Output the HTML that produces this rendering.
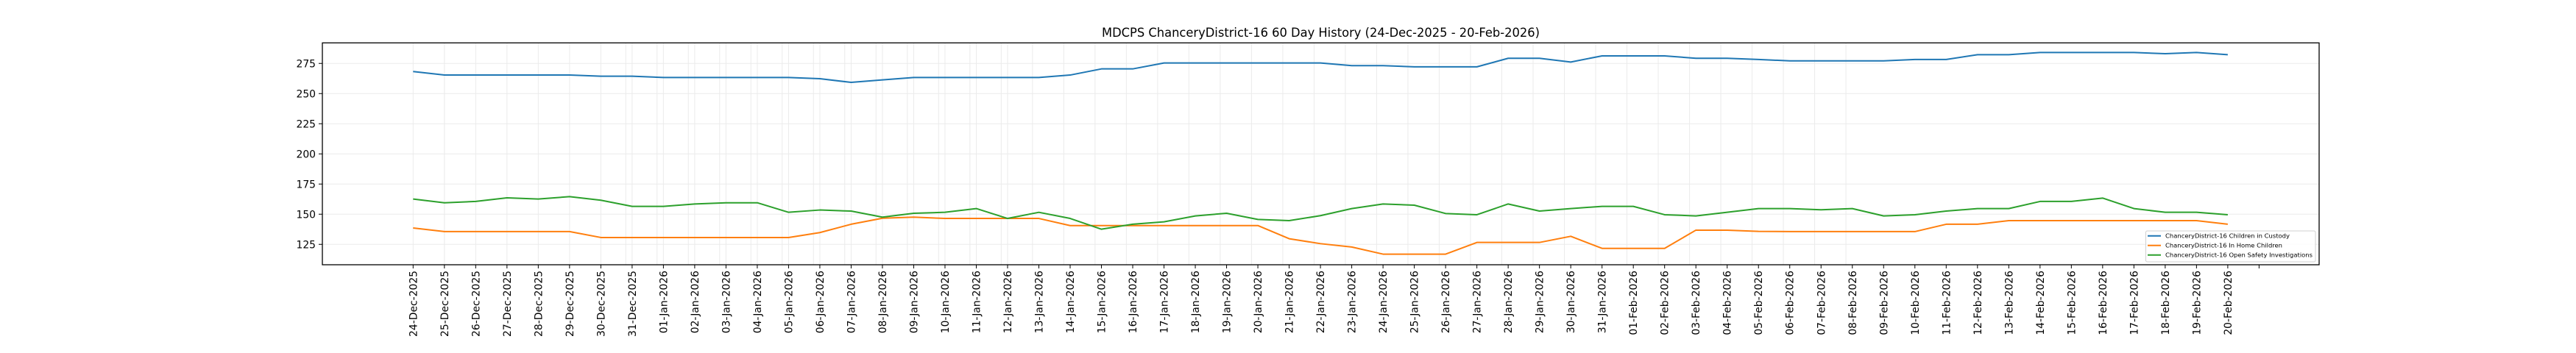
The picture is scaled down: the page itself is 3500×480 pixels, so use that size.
<!DOCTYPE html>
<html><head><meta charset="utf-8"><style>html,body{margin:0;padding:0;background:#fff}svg{display:block}text{font-family:"DejaVu Sans","Liberation Sans",sans-serif;fill:#000}</style></head>
<body>
<svg width="3500" height="480" viewBox="0 0 3500 480" xmlns="http://www.w3.org/2000/svg">
<rect width="3500" height="480" fill="#fff"/>
<text x="1794.5" y="50" font-size="16.7" text-anchor="middle" textLength="595" lengthAdjust="spacingAndGlyphs">MDCPS ChanceryDistrict-16 60 Day History (24-Dec-2025 - 20-Feb-2026)</text>
<!-- grid -->
<g stroke="#ebebeb" stroke-width="1">
<path d="M438 332.3H3151M438 291.3H3151M438 250.3H3151M438 209.3H3151M438 168.3H3151M438 127.3H3151M438 86.3H3151"/>
<g transform="translate(561.3,0)"><path id="vg" d="M0 58V360M42.51 58V360M85.02 58V360M127.53 58V360M170.04 58V360M212.55 58V360M255.06 58V360M297.57 58V360M340.08 58V360M382.59 58V360M425.1 58V360M467.61 58V360M510.12 58V360M552.63 58V360M595.14 58V360M637.65 58V360M680.16 58V360M722.67 58V360M765.18 58V360M807.69 58V360"/></g>
<use href="#vg" x="850.2"/><use href="#vg" x="1700.4"/>
</g>
<!-- series -->
<g transform="translate(561.3,332.3) scale(42.51,-1.64) translate(0,-125)" fill="none" stroke-width="2" stroke-linejoin="round">
<polyline vector-effect="non-scaling-stroke" stroke="#1f77b4" points="0,268.3 1,265.4 2,265.4 3,265.4 4,265.4 5,265.4 6,264.4 7,264.4 8,263.4 9,263.4 10,263.4 11,263.4 12,263.4 13,262.4 14,259.3 15,261.4 16,263.4 17,263.4 18,263.4 19,263.4 20,263.4 21,265.4 22,270.5 23,270.5 24,275.4 25,275.4 26,275.4 27,275.4 28,275.4 29,275.4 30,273.2 31,273.2 32,272.2 33,272.2 34,272.2 35,279.3 36,279.3 37,276.2 38,281.3 39,281.3 40,281.3 41,279.3 42,279.3 43,278.3 44,277.2 45,277.2 46,277.2 47,277.2 48,278.3 49,278.3 50,282.3 51,282.3 52,284.1 53,284.1 54,284.1 55,284.1 56,283.1 57,284.1 58,282.3"/>
<polyline vector-effect="non-scaling-stroke" stroke="#ff7f0e" points="0,138.6 1,135.6 2,135.6 3,135.6 4,135.6 5,135.6 6,130.7 7,130.7 8,130.7 9,130.7 10,130.7 11,130.7 12,130.7 13,134.8 14,141.7 15,146.7 16,147.6 17,146.5 18,146.5 19,146.5 20,146.5 21,140.6 22,140.6 23,140.6 24,140.6 25,140.6 26,140.6 27,140.6 28,129.7 29,125.6 30,122.8 31,116.9 32,116.9 33,116.9 34,126.6 35,126.6 36,126.6 37,131.7 38,121.7 39,121.7 40,121.7 41,136.8 42,136.8 43,135.8 44,135.6 45,135.6 46,135.6 47,135.6 48,135.6 49,141.7 50,141.7 51,144.7 52,144.7 53,144.7 54,144.7 55,144.7 56,144.7 57,144.7 58,141.7"/>
<polyline vector-effect="non-scaling-stroke" stroke="#2ca02c" points="0,162.6 1,159.5 2,160.6 3,163.6 4,162.6 5,164.6 6,161.6 7,156.5 8,156.5 9,158.5 10,159.5 11,159.5 12,151.6 13,153.5 14,152.6 15,147.6 16,150.8 17,151.6 18,154.7 19,146.5 20,151.6 21,146.5 22,137.6 23,141.7 24,143.7 25,148.6 26,150.8 27,145.7 28,144.7 29,148.8 30,154.7 31,158.5 32,157.5 33,150.6 34,149.6 35,158.5 36,152.6 37,154.7 38,156.5 39,156.5 40,149.6 41,148.6 42,151.6 43,154.7 44,154.7 45,153.7 46,154.7 47,148.6 48,149.6 49,152.6 50,154.7 51,154.7 52,160.6 53,160.6 54,163.4 55,154.7 56,151.6 57,151.6 58,149.6"/>
</g>
<!-- axes frame -->
<rect x="438" y="58.3" width="2713" height="301.7" fill="none" stroke="#000" stroke-width="1.3"/>
<!-- y ticks -->
<g stroke="#000" stroke-width="1"><path d="M433 332.3H438M433 291.3H438M433 250.3H438M433 209.3H438M433 168.3H438M433 127.3H438M433 86.3H438"/></g>
<g font-size="13.9" text-anchor="end">
<text x="429" y="337.3">125</text><text x="429" y="296.3">150</text><text x="429" y="255.3">175</text><text x="429" y="214.3">200</text><text x="429" y="173.3">225</text><text x="429" y="132.3">250</text><text x="429" y="91.3">275</text>
</g>
<!-- x ticks -->
<g stroke="#000" stroke-width="1" transform="translate(561.3,0)"><path id="xt" d="M0 360V365M42.51 360V365M85.02 360V365M127.53 360V365M170.04 360V365M212.55 360V365M255.06 360V365M297.57 360V365M340.08 360V365M382.59 360V365M425.1 360V365M467.61 360V365M510.12 360V365M552.63 360V365M595.14 360V365M637.65 360V365M680.16 360V365M722.67 360V365M765.18 360V365M807.69 360V365"/></g>
<g stroke="#000" stroke-width="1" transform="translate(1411.5,0)"><use href="#xt"/></g>
<g stroke="#000" stroke-width="1" transform="translate(2261.7,0)"><use href="#xt"/></g>
<g font-size="13.9" text-anchor="end">
<text transform="translate(566.3,368) rotate(-90)">24-Dec-2025</text>
<text transform="translate(608.8,368) rotate(-90)">25-Dec-2025</text>
<text transform="translate(651.3,368) rotate(-90)">26-Dec-2025</text>
<text transform="translate(693.8,368) rotate(-90)">27-Dec-2025</text>
<text transform="translate(736.3,368) rotate(-90)">28-Dec-2025</text>
<text transform="translate(778.9,368) rotate(-90)">29-Dec-2025</text>
<text transform="translate(821.4,368) rotate(-90)">30-Dec-2025</text>
<text transform="translate(863.9,368) rotate(-90)">31-Dec-2025</text>
<text transform="translate(906.4,368) rotate(-90)">01-Jan-2026</text>
<text transform="translate(948.9,368) rotate(-90)">02-Jan-2026</text>
<text transform="translate(991.4,368) rotate(-90)">03-Jan-2026</text>
<text transform="translate(1033.9,368) rotate(-90)">04-Jan-2026</text>
<text transform="translate(1076.4,368) rotate(-90)">05-Jan-2026</text>
<text transform="translate(1118.9,368) rotate(-90)">06-Jan-2026</text>
<text transform="translate(1161.4,368) rotate(-90)">07-Jan-2026</text>
<text transform="translate(1203.9,368) rotate(-90)">08-Jan-2026</text>
<text transform="translate(1246.5,368) rotate(-90)">09-Jan-2026</text>
<text transform="translate(1289.0,368) rotate(-90)">10-Jan-2026</text>
<text transform="translate(1331.5,368) rotate(-90)">11-Jan-2026</text>
<text transform="translate(1374.0,368) rotate(-90)">12-Jan-2026</text>
<text transform="translate(1416.5,368) rotate(-90)">13-Jan-2026</text>
<text transform="translate(1459.0,368) rotate(-90)">14-Jan-2026</text>
<text transform="translate(1501.5,368) rotate(-90)">15-Jan-2026</text>
<text transform="translate(1544.0,368) rotate(-90)">16-Jan-2026</text>
<text transform="translate(1586.5,368) rotate(-90)">17-Jan-2026</text>
<text transform="translate(1629.1,368) rotate(-90)">18-Jan-2026</text>
<text transform="translate(1671.6,368) rotate(-90)">19-Jan-2026</text>
<text transform="translate(1714.1,368) rotate(-90)">20-Jan-2026</text>
<text transform="translate(1756.6,368) rotate(-90)">21-Jan-2026</text>
<text transform="translate(1799.1,368) rotate(-90)">22-Jan-2026</text>
<text transform="translate(1841.6,368) rotate(-90)">23-Jan-2026</text>
<text transform="translate(1884.1,368) rotate(-90)">24-Jan-2026</text>
<text transform="translate(1926.6,368) rotate(-90)">25-Jan-2026</text>
<text transform="translate(1969.1,368) rotate(-90)">26-Jan-2026</text>
<text transform="translate(2011.6,368) rotate(-90)">27-Jan-2026</text>
<text transform="translate(2054.2,368) rotate(-90)">28-Jan-2026</text>
<text transform="translate(2096.7,368) rotate(-90)">29-Jan-2026</text>
<text transform="translate(2139.2,368) rotate(-90)">30-Jan-2026</text>
<text transform="translate(2181.7,368) rotate(-90)">31-Jan-2026</text>
<text transform="translate(2224.2,368) rotate(-90)">01-Feb-2026</text>
<text transform="translate(2266.7,368) rotate(-90)">02-Feb-2026</text>
<text transform="translate(2309.2,368) rotate(-90)">03-Feb-2026</text>
<text transform="translate(2351.7,368) rotate(-90)">04-Feb-2026</text>
<text transform="translate(2394.2,368) rotate(-90)">05-Feb-2026</text>
<text transform="translate(2436.7,368) rotate(-90)">06-Feb-2026</text>
<text transform="translate(2479.3,368) rotate(-90)">07-Feb-2026</text>
<text transform="translate(2521.8,368) rotate(-90)">08-Feb-2026</text>
<text transform="translate(2564.3,368) rotate(-90)">09-Feb-2026</text>
<text transform="translate(2606.8,368) rotate(-90)">10-Feb-2026</text>
<text transform="translate(2649.3,368) rotate(-90)">11-Feb-2026</text>
<text transform="translate(2691.8,368) rotate(-90)">12-Feb-2026</text>
<text transform="translate(2734.3,368) rotate(-90)">13-Feb-2026</text>
<text transform="translate(2776.8,368) rotate(-90)">14-Feb-2026</text>
<text transform="translate(2819.3,368) rotate(-90)">15-Feb-2026</text>
<text transform="translate(2861.8,368) rotate(-90)">16-Feb-2026</text>
<text transform="translate(2904.4,368) rotate(-90)">17-Feb-2026</text>
<text transform="translate(2946.9,368) rotate(-90)">18-Feb-2026</text>
<text transform="translate(2989.4,368) rotate(-90)">19-Feb-2026</text>
<text transform="translate(3031.9,368) rotate(-90)">20-Feb-2026</text>
</g>
<!-- legend -->
<rect x="2915.5" y="314" width="230.5" height="42" rx="2" fill="#fff" fill-opacity="0.8" stroke="#d0d0d0" stroke-width="1"/>
<g stroke-width="2"><line x1="2918" y1="320.7" x2="2936" y2="320.7" stroke="#1f77b4"/><line x1="2918" y1="333.7" x2="2936" y2="333.7" stroke="#ff7f0e"/><line x1="2918" y1="346.7" x2="2936" y2="346.7" stroke="#2ca02c"/></g>
<g font-size="8.3">
<text x="2942" y="323.6" textLength="169" lengthAdjust="spacingAndGlyphs">ChanceryDistrict-16 Children in Custody</text>
<text x="2942" y="336.6" textLength="159" lengthAdjust="spacingAndGlyphs">ChanceryDistrict-16 In Home Children</text>
<text x="2942" y="349.6" textLength="200" lengthAdjust="spacingAndGlyphs">ChanceryDistrict-16 Open Safety Investigations</text>
</g>
</svg>
</body></html>
